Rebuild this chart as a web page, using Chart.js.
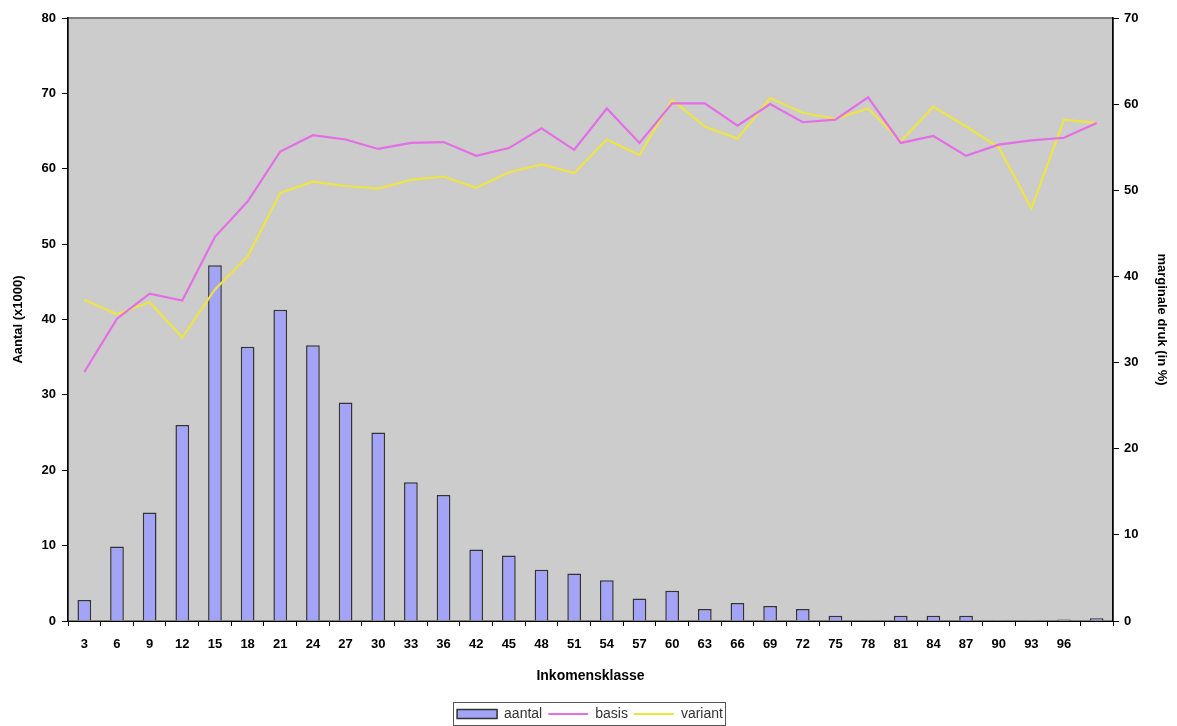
<!DOCTYPE html>
<html>
<head>
<meta charset="utf-8">
<script src="https://cdn.jsdelivr.net/npm/chart.js@4.4.0/dist/chart.umd.min.js"></script>
<style>
  html, body { margin: 0; padding: 0; background: #fff; }
  #wrap { width: 1177px; height: 726px; }
</style>
</head>
<body>
<div id="wrap"><canvas id="myChart" width="1177" height="726"></canvas></div>
<script>
// inkomensklassen (x-as)
const klassen = ['3','6','9','12','15','18','21','24','27','30','33','36','42','45','48','51',
  '54','57','60','63','66','69','72','75','78','81','84','87','90','93','96',''];

// aantal (x1000), linker as
const aantal = [2.8, 9.9, 14.4, 26.0, 47.2, 36.4, 41.3, 36.6, 29.0, 25.0, 18.4, 16.7, 9.5, 8.7, 6.8, 6.3,
  5.4, 3.0, 4.0, 1.6, 2.4, 2.0, 1.6, 0.7, 0.1, 0.7, 0.7, 0.7, 0.1, 0.1, 0.2, 0.35];

// marginale druk (in %), rechter as
const basis = [28.9, 35.1, 38.0, 37.2, 44.6, 48.7, 54.5, 56.4, 55.9, 54.8, 55.5, 55.6, 54.0, 54.9, 57.2, 54.7,
  59.5, 55.5, 60.1, 60.1, 57.5, 60.0, 57.9, 58.2, 60.8, 55.5, 56.3, 54.0, 55.3, 55.8, 56.1, 57.8];
const variant = [37.3, 35.6, 37.0, 32.9, 38.5, 42.3, 49.7, 51.0, 50.5, 50.2, 51.2, 51.6, 50.3, 52.1, 53.0, 52.0,
  55.9, 54.1, 60.5, 57.4, 56.0, 60.7, 59.0, 58.3, 59.5, 55.7, 59.7, 57.4, 55.0, 47.9, 58.2, 57.8];

const tickFont = { family: 'Liberation Sans', size: 13, weight: 'bold' };

// grijze plotruimte + kader om de legenda
const plotBg = {
  id: 'plotBg',
  beforeDraw(chart) {
    const { ctx, chartArea: a } = chart;
    ctx.save();
    ctx.fillStyle = '#cccccc';
    ctx.fillRect(a.left, a.top, a.right - a.left, a.bottom - a.top);
    ctx.strokeStyle = '#808080';
    ctx.lineWidth = 2;
    ctx.strokeRect(a.left, a.top, a.right - a.left, a.bottom - a.top);
    ctx.restore();
  },
  afterDraw(chart) {
    const l = chart.legend;
    const boxes = l.legendHitBoxes;
    if (!boxes || !boxes.length) return;
    let x0 = Infinity, x1 = -Infinity;
    boxes.forEach(b => { x0 = Math.min(x0, b.left); x1 = Math.max(x1, b.left + b.width); });
    const y0 = Math.min(...boxes.map(b => b.top)) - 5;
    const y1 = Math.min(Math.max(...boxes.map(b => b.top + b.height)) + 4, chart.height - 1.5);
    const ctx = chart.ctx;
    ctx.save();
    ctx.strokeStyle = '#555';
    ctx.lineWidth = 1;
    ctx.strokeRect(Math.round(x0 - 4) + 0.5, Math.round(y0) + 0.5, Math.round(x1 - x0 + 6), Math.round(y1 - y0));
    ctx.restore();
  }
};

new Chart(document.getElementById('myChart').getContext('2d'), {
  type: 'bar',
  data: {
    labels: klassen,
    datasets: [
      {
        type: 'bar', label: 'aantal', data: aantal, yAxisID: 'y',
        backgroundColor: '#a3a3f7', borderColor: '#333333', borderWidth: 1.5,
        categoryPercentage: 1, barPercentage: 0.42, order: 2, pointStyle: 'rect'
      },
      {
        type: 'line', label: 'basis', data: basis, yAxisID: 'y1',
        borderColor: '#e46ee6', backgroundColor: '#e46ee6', borderWidth: 2.2,
        pointRadius: 0, tension: 0, order: 1, pointStyle: 'line'
      },
      {
        type: 'line', label: 'variant', data: variant, yAxisID: 'y1',
        borderColor: '#eee444', backgroundColor: '#eee444', borderWidth: 2.2,
        pointRadius: 0, tension: 0, order: 1, pointStyle: 'line'
      }
    ]
  },
  options: {
    responsive: false,
    animation: false,
    layout: { padding: { top: 18, left: 11, right: 8, bottom: -5 } },
    plugins: {
      tooltip: { enabled: false },
      legend: {
        position: 'bottom',
        labels: {
          usePointStyle: true, pointStyleWidth: 40, boxHeight: 9, padding: 6,
          color: '#333', font: { family: 'Liberation Sans', size: 14 },
          sort: (a, b) => a.datasetIndex - b.datasetIndex
        }
      }
    },
    scales: {
      x: {
        offset: true,
        grid: { drawOnChartArea: false, drawTicks: true, tickLength: 5, color: '#000', offset: true },
        border: { color: '#000', width: 1 },
        ticks: { color: '#000', font: tickFont, maxRotation: 0, autoSkip: false, padding: 11 },
        title: { display: true, text: 'Inkomensklasse', color: '#000', font: { family: 'Liberation Sans', size: 14, weight: 'bold' }, padding: { top: 12, bottom: 16 } },
        afterFit(s) { s.height = 80; }
      },
      y: {
        position: 'left', min: 0, max: 80,
        grid: { drawOnChartArea: false, tickLength: 6, color: '#000' },
        border: { color: '#000', width: 1.5 },
        ticks: { stepSize: 10, color: '#000', font: tickFont, padding: 6 },
        title: { display: true, text: 'Aantal (x1000)', color: '#000', font: { family: 'Liberation Sans', size: 13, weight: 'bold' }, padding: 0 },
        afterFit(s) { s.width = 57; }
      },
      y1: {
        position: 'right', min: 0, max: 70,
        grid: { drawOnChartArea: false, tickLength: 6, color: '#000' },
        border: { color: '#000', width: 1.5 },
        ticks: { stepSize: 10, color: '#000', font: tickFont, padding: 5 },
        title: { display: true, text: 'marginale druk (in %)', color: '#000', font: { family: 'Liberation Sans', size: 13, weight: 'bold' }, padding: 0 },
        afterFit(s) { s.width = 56; }
      }
    }
  },
  plugins: [plotBg]
});
</script>
</body>
</html>
